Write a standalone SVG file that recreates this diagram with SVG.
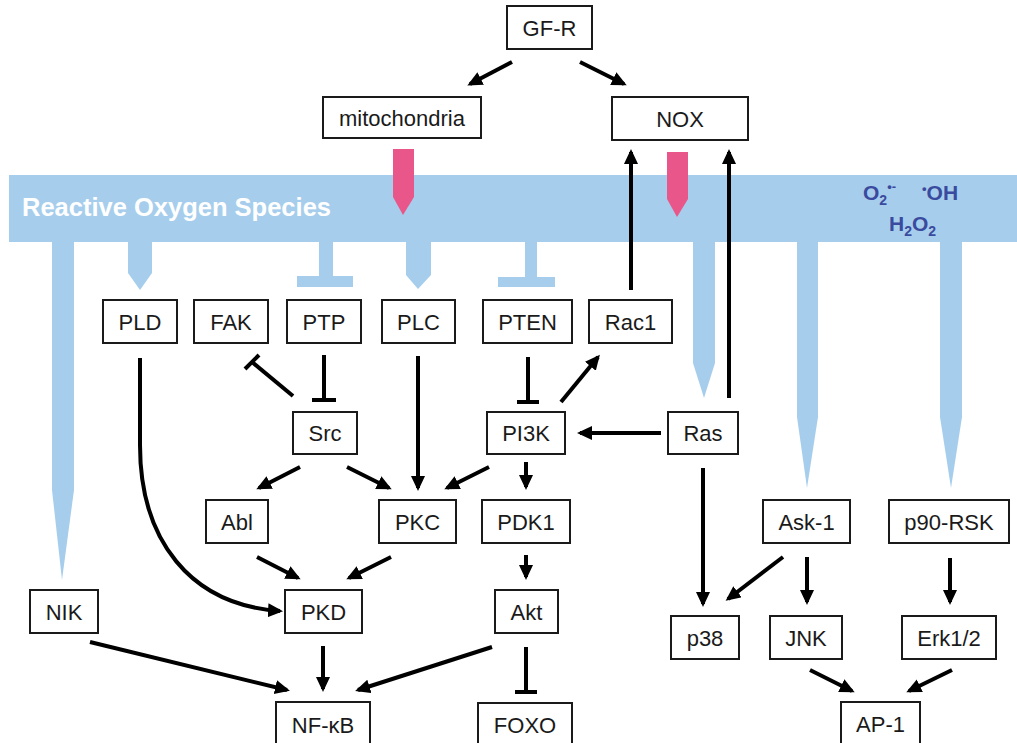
<svg xmlns="http://www.w3.org/2000/svg" width="1017" height="743" viewBox="0 0 1017 743">
<style>
.box{fill:#fff;stroke:#1a1a1a;stroke-width:2}
.lbl{font-family:"Liberation Sans",Arial,sans-serif;font-size:22px;fill:#1a1a1a;text-anchor:middle}
.ros{fill:#A6CEEC}
.pink{fill:#E9578A}
.c{stroke:#000;stroke-width:4;fill:none}
.a{marker-end:url(#ah)}
.ros-t{font-family:"Liberation Sans",Arial,sans-serif;font-weight:bold;font-size:25.5px;fill:#fff}
.sp{font-family:"Liberation Sans",Arial,sans-serif;font-weight:bold;font-size:21px;fill:#3A4A9E}
</style>
<defs>
<marker id="ah" markerUnits="userSpaceOnUse" markerWidth="16" markerHeight="16" refX="12" refY="7" orient="auto">
<path d="M0,0 L15,7 L0,14 z" fill="#000"/>
</marker>
</defs>
<rect width="1017" height="743" fill="#fff"/>

<g id="ros-band">
<rect class="ros" x="9" y="175" width="1008" height="67"/>
<polygon class="ros" points="52,240 74,240 74,490 62,580 52,490"/>
<polygon class="ros" points="128,240 152,240 152,273 140,290 128,273"/>
<polygon class="ros" points="319,240 333,240 333,276 353,276 353,287 297,287 297,276 319,276"/>
<polygon class="ros" points="406,240 431,240 431,275 418,289 406,275"/>
<polygon class="ros" points="525,240 537,240 537,277 555,277 555,287 498,287 498,277 525,277"/>
<polygon class="ros" points="693,240 715,240 715,363 704,398 693,363"/>
<polygon class="ros" points="797,240 818,240 818,417 807,488 797,417"/>
<polygon class="ros" points="940,240 962,240 962,417 951,488 940,417"/>
<text class="ros-t" x="22" y="216">Reactive Oxygen Species</text>
<text class="sp" x="863" y="200">O<tspan font-size="14" dy="5">2</tspan><tspan font-size="13" dy="-14">•-</tspan></text>
<text class="sp" x="922" y="200"><tspan font-size="13" dy="-7">•</tspan><tspan dy="7">OH</tspan></text>
<text class="sp" x="889" y="231">H<tspan font-size="14" dy="5">2</tspan><tspan dy="-5">O</tspan><tspan font-size="14" dy="5">2</tspan></text>
</g>

<g id="pink-arrows">
<polygon class="pink" points="393,149 414,149 414,197 403,215 393,197"/>
<polygon class="pink" points="667,152 688,152 688,199 677,217 667,199"/>
</g>

<g id="connectors">
<line class="c a" x1="512" y1="62" x2="470" y2="84"/>
<line class="c a" x1="580" y1="62" x2="624" y2="84"/>
<line class="c a" x1="631" y1="290" x2="631" y2="152"/>
<line class="c a" x1="729" y1="398" x2="729" y2="152"/>
<line class="c a" x1="661" y1="433" x2="580" y2="433"/>
<line class="c a" x1="561" y1="402" x2="598" y2="357"/>
<line class="c" x1="528" y1="357" x2="528" y2="402"/>
<line class="c" x1="517" y1="402" x2="539" y2="402"/>
<line class="c" x1="324" y1="355" x2="324" y2="400"/>
<line class="c" x1="312" y1="400" x2="336" y2="400"/>
<line class="c" x1="293" y1="396" x2="252" y2="362"/>
<line class="c" x1="245" y1="369" x2="259" y2="355"/>
<line class="c a" x1="418" y1="356" x2="418" y2="488"/>
<line class="c a" x1="300" y1="467" x2="259" y2="488"/>
<line class="c a" x1="347" y1="467" x2="389" y2="488"/>
<line class="c a" x1="489" y1="467" x2="447" y2="488"/>
<line class="c a" x1="526" y1="462" x2="526" y2="487"/>
<line class="c a" x1="257" y1="557" x2="298" y2="578"/>
<line class="c a" x1="391" y1="557" x2="349" y2="578"/>
<line class="c a" x1="526" y1="555" x2="526" y2="577"/>
<path class="c a" d="M140,358 L140,445 C140,540 190,605 280,611"/>
<line class="c a" x1="323" y1="646" x2="323" y2="689"/>
<line class="c a" x1="90" y1="642" x2="287" y2="690"/>
<line class="c a" x1="492" y1="647" x2="358" y2="690"/>
<line class="c" x1="526" y1="647" x2="526" y2="692"/>
<line class="c" x1="515" y1="692" x2="537" y2="692"/>
<line class="c a" x1="703" y1="468" x2="703" y2="604"/>
<line class="c a" x1="783" y1="557" x2="728" y2="599"/>
<line class="c a" x1="807" y1="557" x2="807" y2="602"/>
<line class="c a" x1="950" y1="558" x2="950" y2="602"/>
<line class="c a" x1="810" y1="670" x2="852" y2="691"/>
<line class="c a" x1="952" y1="670" x2="909" y2="691"/>
</g>

<g id="GF-R"><rect class="box" x="507" y="6" width="85" height="43"/><text class="lbl" x="549.5" y="35.5">GF-R</text></g>
<g id="mitochondria"><rect class="box" x="323" y="97" width="158" height="41"/><text class="lbl" x="402" y="125.5">mitochondria</text></g>
<g id="NOX"><rect class="box" x="612" y="97" width="136" height="43"/><text class="lbl" x="680" y="126.5">NOX</text></g>
<g id="PLD"><rect class="box" x="103" y="300" width="74" height="43"/><text class="lbl" x="140" y="329.5">PLD</text></g>
<g id="FAK"><rect class="box" x="194" y="300" width="74" height="43"/><text class="lbl" x="231" y="329.5">FAK</text></g>
<g id="PTP"><rect class="box" x="287" y="300" width="74" height="43"/><text class="lbl" x="324" y="329.5">PTP</text></g>
<g id="PLC"><rect class="box" x="382" y="300" width="73" height="43"/><text class="lbl" x="418.5" y="329.5">PLC</text></g>
<g id="PTEN"><rect class="box" x="483" y="300" width="89" height="43"/><text class="lbl" x="527.5" y="329.5">PTEN</text></g>
<g id="Rac1"><rect class="box" x="589" y="300" width="83" height="43"/><text class="lbl" x="630.5" y="329.5">Rac1</text></g>
<g id="Src"><rect class="box" x="293" y="412" width="64" height="42"/><text class="lbl" x="325" y="441">Src</text></g>
<g id="PI3K"><rect class="box" x="487" y="412" width="78" height="42"/><text class="lbl" x="526" y="441">PI3K</text></g>
<g id="Ras"><rect class="box" x="668" y="412" width="70" height="42"/><text class="lbl" x="703" y="441">Ras</text></g>
<g id="Abl"><rect class="box" x="206" y="500" width="62" height="43"/><text class="lbl" x="237" y="529.5">Abl</text></g>
<g id="PKC"><rect class="box" x="379" y="500" width="77" height="43"/><text class="lbl" x="417.5" y="529.5">PKC</text></g>
<g id="PDK1"><rect class="box" x="482" y="500" width="88" height="43"/><text class="lbl" x="526" y="529.5">PDK1</text></g>
<g id="Ask-1"><rect class="box" x="763" y="500" width="87" height="43"/><text class="lbl" x="806.5" y="529.5">Ask-1</text></g>
<g id="p90-RSK"><rect class="box" x="889" y="500" width="120" height="43"/><text class="lbl" x="949" y="529.5">p90-RSK</text></g>
<g id="NIK"><rect class="box" x="30" y="590" width="68" height="43"/><text class="lbl" x="64" y="619.5">NIK</text></g>
<g id="PKD"><rect class="box" x="285" y="590" width="77" height="43"/><text class="lbl" x="323.5" y="619.5">PKD</text></g>
<g id="Akt"><rect class="box" x="495" y="590" width="63" height="43"/><text class="lbl" x="526.5" y="619.5">Akt</text></g>
<g id="p38"><rect class="box" x="671" y="616" width="68" height="43"/><text class="lbl" x="705" y="645.5">p38</text></g>
<g id="JNK"><rect class="box" x="770" y="616" width="72" height="43"/><text class="lbl" x="806" y="645.5">JNK</text></g>
<g id="Erk1-2"><rect class="box" x="902" y="616" width="94" height="43"/><text class="lbl" x="949" y="645.5">Erk1/2</text></g>
<g id="NF-kB"><rect class="box" x="276" y="702" width="94" height="60"/><text class="lbl" x="323" y="733">NF-κB</text></g>
<g id="FOXO"><rect class="box" x="478" y="703" width="94" height="60"/><text class="lbl" x="525" y="733">FOXO</text></g>
<g id="AP-1"><rect class="box" x="841" y="702" width="79" height="60"/><text class="lbl" x="880.5" y="732">AP-1</text></g>
</svg>
